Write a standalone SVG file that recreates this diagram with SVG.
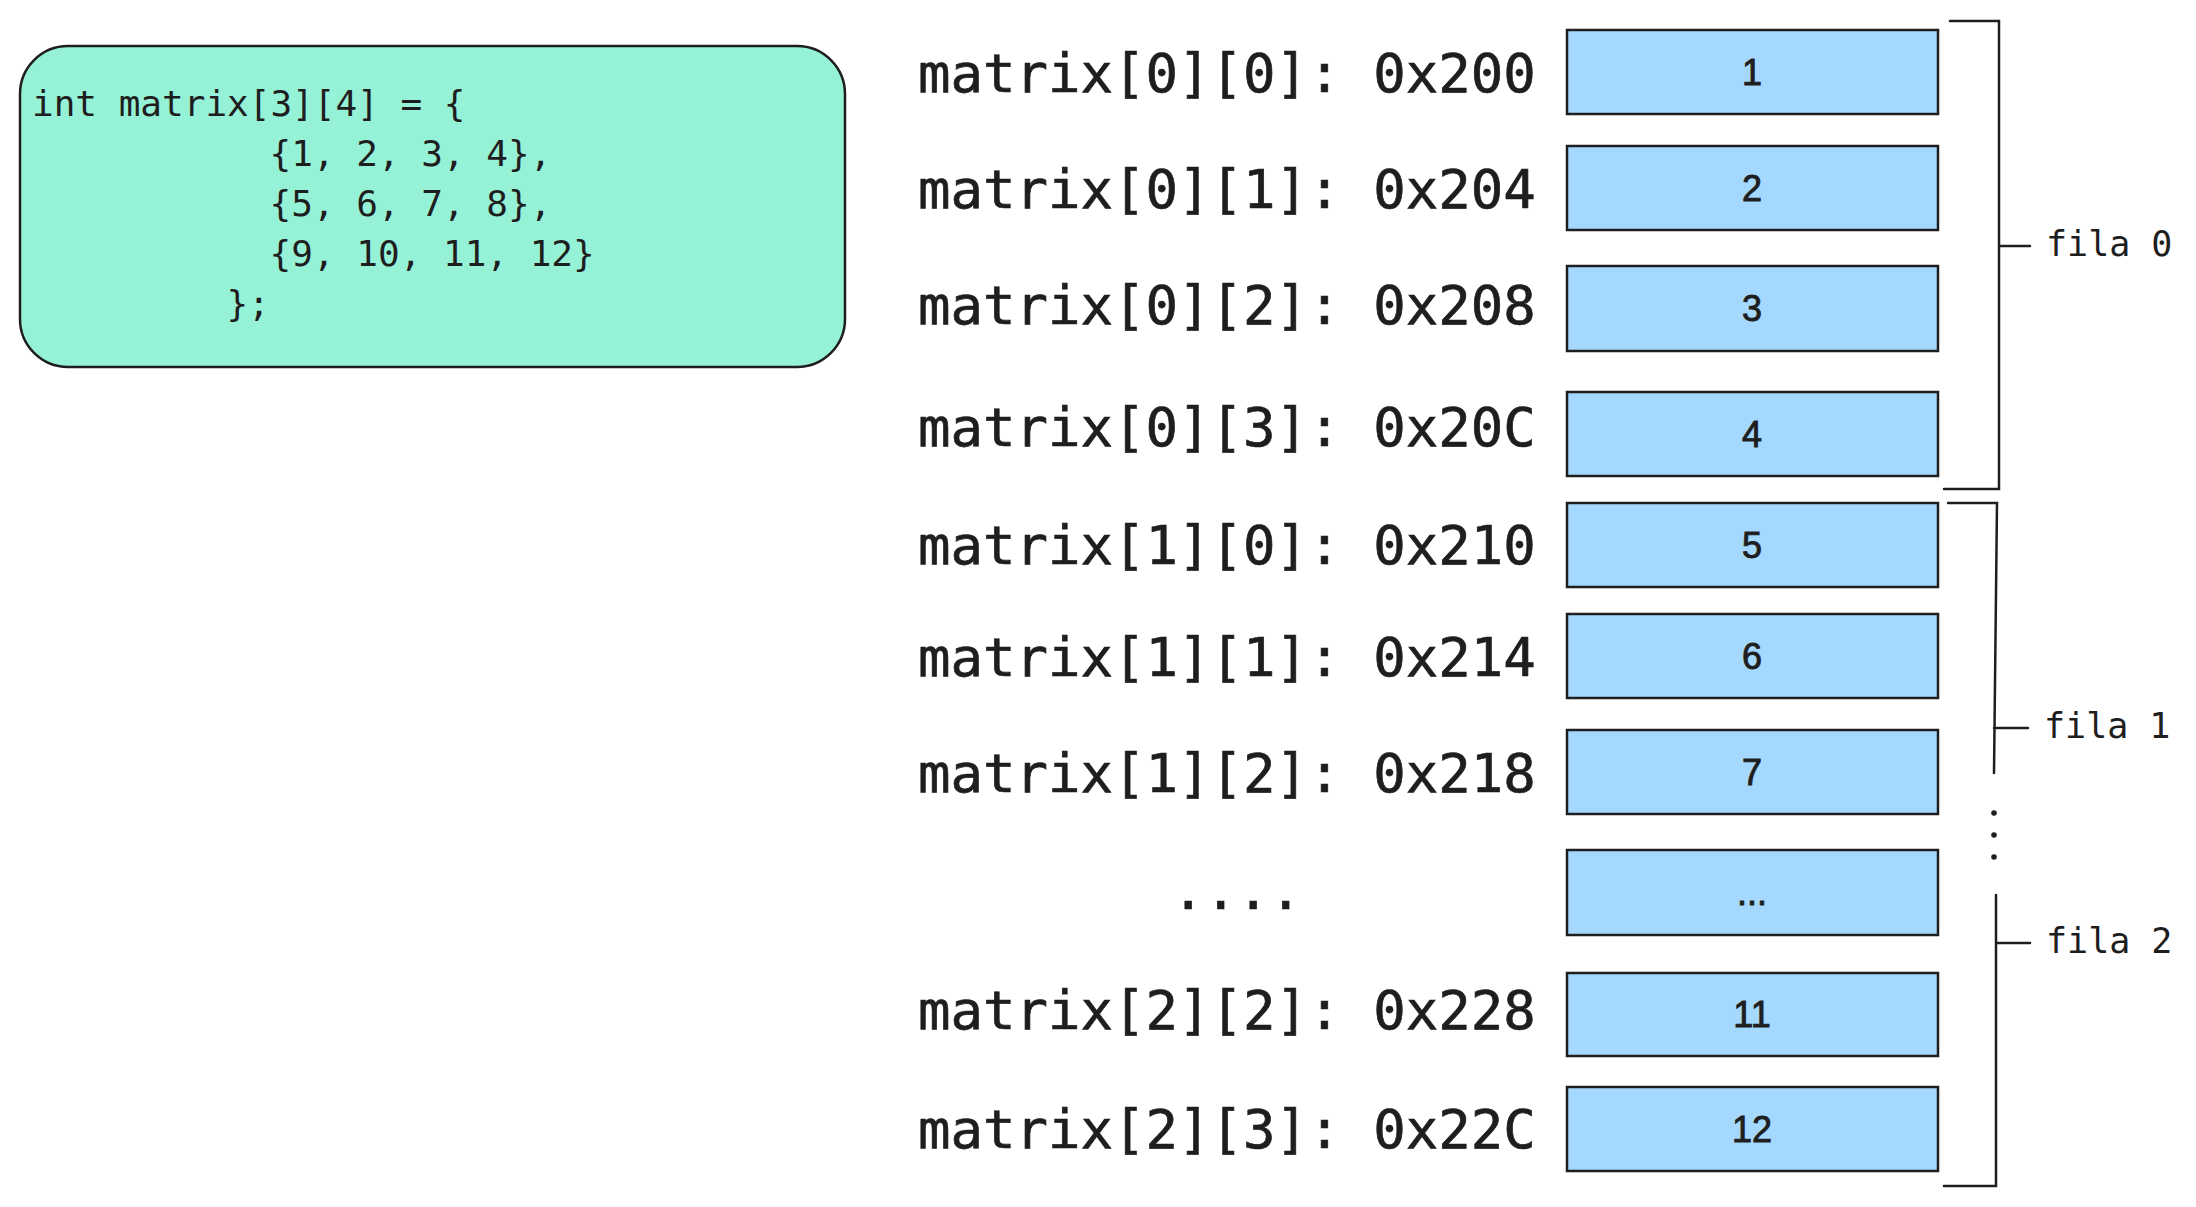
<svg xmlns="http://www.w3.org/2000/svg" width="2196" height="1207" viewBox="0 0 2196 1207">
  <style>
    .code { font-family: "DejaVu Sans Mono", "Liberation Mono", monospace; font-size: 36px; fill: #1e1e1e; }
    .addr { font-family: "DejaVu Sans Mono", "Liberation Mono", monospace; font-size: 54px; fill: #1e1e1e; stroke: #1e1e1e; stroke-width: 0.7; }
    .fila { font-family: "DejaVu Sans Mono", "Liberation Mono", monospace; font-size: 35px; fill: #1e1e1e; }
    .cell { fill: #a5d8ff; stroke: #1e1e1e; stroke-width: 2.5; }
    .val { font-family: "Liberation Sans", Arial, sans-serif; font-size: 36px; fill: #1e1e1e; stroke: #1e1e1e; stroke-width: 0.9; text-anchor: middle; }
    .br { fill: none; stroke: #1e1e1e; stroke-width: 2.5; stroke-linecap: round; }
  </style>
  <rect width="2196" height="1207" fill="#ffffff"/>

  <g id="code-block">
    <rect x="20" y="46" width="825" height="321" rx="48" ry="48" fill="#96f2d7" stroke="#1e1e1e" stroke-width="2.5"/>
    <text class="code">
      <tspan x="32" y="116">int matrix[3][4] = {</tspan>
      <tspan x="269.6" y="166">{1, 2, 3, 4},</tspan>
      <tspan x="269.6" y="216">{5, 6, 7, 8},</tspan>
      <tspan x="269.6" y="266">{9, 10, 11, 12}</tspan>
      <tspan x="226.4" y="316">};</tspan>
    </text>
  </g>

  <g id="labels">
    <text class="addr" x="918" y="92">matrix[0][0]: 0x200</text>
    <text class="addr" x="918" y="208">matrix[0][1]: 0x204</text>
    <text class="addr" x="918" y="324">matrix[0][2]: 0x208</text>
    <text class="addr" x="918" y="446">matrix[0][3]: 0x20C</text>
    <text class="addr" x="918" y="564">matrix[1][0]: 0x210</text>
    <text class="addr" x="918" y="676">matrix[1][1]: 0x214</text>
    <text class="addr" x="918" y="792">matrix[1][2]: 0x218</text>
    <text class="addr" x="1172" y="909">....</text>
    <text class="addr" x="918" y="1029">matrix[2][2]: 0x228</text>
    <text class="addr" x="918" y="1148">matrix[2][3]: 0x22C</text>
  </g>

  <g id="cell-1"><rect class="cell" x="1567" y="30" width="371" height="84"/><text class="val" x="1752" y="85">1</text></g>
  <g id="cell-2"><rect class="cell" x="1567" y="146" width="371" height="84"/><text class="val" x="1752" y="201">2</text></g>
  <g id="cell-3"><rect class="cell" x="1567" y="266" width="371" height="85"/><text class="val" x="1752" y="321">3</text></g>
  <g id="cell-4"><rect class="cell" x="1567" y="392" width="371" height="84"/><text class="val" x="1752" y="447">4</text></g>
  <g id="cell-5"><rect class="cell" x="1567" y="503" width="371" height="84"/><text class="val" x="1752" y="558">5</text></g>
  <g id="cell-6"><rect class="cell" x="1567" y="614" width="371" height="84"/><text class="val" x="1752" y="669">6</text></g>
  <g id="cell-7"><rect class="cell" x="1567" y="730" width="371" height="84"/><text class="val" x="1752" y="785">7</text></g>
  <g id="cell-etc"><rect class="cell" x="1567" y="850" width="371" height="85"/><text class="val" x="1752" y="905">...</text></g>
  <g id="cell-11"><rect class="cell" x="1567" y="973" width="371" height="83"/><text class="val" x="1752" y="1027">11</text></g>
  <g id="cell-12"><rect class="cell" x="1567" y="1087" width="371" height="84"/><text class="val" x="1752" y="1142">12</text></g>

  <g id="connectors">
    <path class="br" d="M1950 21 L1999 21 L1999 489 L1944 489 M1999 246 L2030 246"/>
    <path class="br" d="M1948 503 L1997 503 L1994 773 M1994 728 L2028 728"/>
    <circle cx="1994" cy="813" r="2.8" fill="#1e1e1e"/>
    <circle cx="1994" cy="835" r="2.8" fill="#1e1e1e"/>
    <circle cx="1994" cy="857" r="2.8" fill="#1e1e1e"/>
    <path class="br" d="M1996 895 L1996 1186 L1944 1186 M1996 943 L2030 943"/>
  </g>

  <g id="row-labels">
    <text class="fila" x="2046" y="256">fila 0</text>
    <text class="fila" x="2044" y="738">fila 1</text>
    <text class="fila" x="2046" y="953">fila 2</text>
  </g>
</svg>
